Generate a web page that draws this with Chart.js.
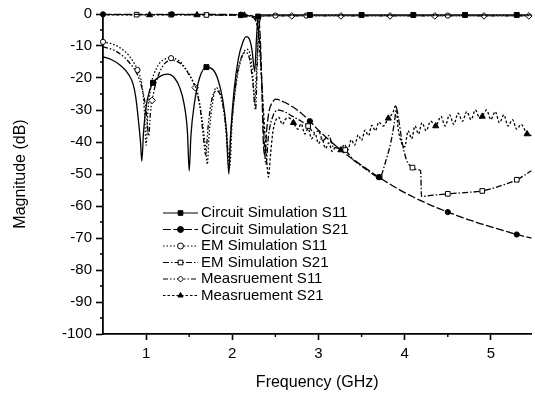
<!DOCTYPE html>
<html>
<head>
<meta charset="utf-8">
<script src="https://cdn.jsdelivr.net/npm/chart.js@4.4.1/dist/chart.umd.min.js"></script>
<style>
 body{margin:0;background:#fff}
</style>
</head>
<body>
<canvas id="chart_sparam" width="535" height="400"></canvas>
<script>
// frequencies in GHz, magnitudes in dB
var circS11_f = [0.5,0.6,0.7,0.8,0.85,0.88,0.91,0.935,0.95,0.97,1.0,1.04,1.08,1.16,1.25,1.33,1.39,1.44,1.48,1.5,1.52,1.56,1.62,1.7,1.78,1.84,1.89,1.93,1.96,1.98,2.02,2.07,2.12,2.16,2.2,2.23,2.26,2.28,2.3,2.32,2.36,2.9,3.5,4.1,4.7,5.3,5.47];
var circS11_db = [-13.4,-14.3,-16,-19,-22,-26,-33,-40,-46,-37,-29,-24,-21.5,-19.5,-18.8,-20,-23,-28,-37,-49,-38,-28,-20,-16.6,-17.5,-21,-27,-36,-50,-38,-24,-14,-9,-7.1,-8,-11.5,-18,-8,-0.8,-0.4,-0.3,-0.3,-0.3,-0.3,-0.3,-0.3,-0.3];
var circS11_marks = [1.08,1.7,2.3,2.9,3.5,4.1,4.7,5.3];

var circS21_f = [0.5,1.3,2.1,2.2,2.26,2.3,2.32,2.34,2.36,2.38,2.4,2.43,2.47,2.5,2.6,2.7,2.8,2.9,3.0,3.1,3.2,3.3,3.4,3.5,3.6,3.7,3.8,3.9,4.0,4.1,4.2,4.3,4.4,4.5,4.6,4.7,4.8,4.9,5.0,5.1,5.2,5.3,5.4,5.47];
var circS21_db = [-0.1,-0.1,-0.2,-0.4,-0.9,-2,-5,-20,-40,-44,-36,-30,-27.5,-26.6,-27.5,-29,-31,-33.5,-36.3,-38.8,-41.2,-43.4,-45.4,-47.3,-49.2,-51,-52.7,-54.3,-55.8,-57.2,-58.5,-59.7,-60.8,-61.9,-62.9,-63.9,-64.8,-65.7,-66.5,-67.3,-68.1,-68.9,-69.6,-70];
var circS21_marks = [0.5,1.3,2.1,2.9,3.7,4.5,5.3];

var emS11_f = [0.5,0.6,0.7,0.8,0.9,0.95,0.98,1.0,1.02,1.06,1.12,1.2,1.29,1.38,1.47,1.55,1.6,1.65,1.69,1.71,1.73,1.77,1.81,1.86,1.91,1.95,1.97,2.0,2.05,2.11,2.17,2.21,2.24,2.26,2.28,2.3,2.32,2.36,2.5,2.86,3.3,3.9,4.5,5.0,5.47];
var emS11_db = [-8.7,-9.3,-10.6,-13,-17.5,-22,-30,-41,-31,-22,-17,-14.3,-13.8,-14.6,-17.5,-21.5,-25,-33,-42,-47,-38,-28,-23,-25,-32,-44,-48,-33,-21,-13.5,-11,-13,-20,-28,-18,-7,-2,-0.6,-0.5,-0.5,-0.5,-0.5,-0.5,-0.5,-0.5];
var emS11_marks = [0.5,0.9,1.29,2.5,2.86,4.5];

var emS21_f = [0.5,0.89,1.29,1.7,2.1,2.22,2.28,2.31,2.34,2.37,2.39,2.42,2.47,2.53,2.6,2.7,2.8,2.88,2.95,3.0,3.05,3.12,3.17,3.25,3.31,3.4,3.5,3.6,3.71,3.78,3.84,3.88,3.905,3.93,3.97,4.02,4.09,4.15,4.185,4.195,4.3,4.5,4.7,4.9,5.1,5.3,5.47];
var emS21_db = [-0.2,-0.2,-0.2,-0.3,-0.4,-0.8,-2.5,-6,-20,-40,-47,-38,-32,-30,-30.5,-32,-33.5,-35,-37,-36.5,-39.5,-38,-41.5,-42,-42.5,-45.5,-47.5,-49.5,-51,-46,-40,-34,-29.5,-33,-40,-45.5,-48,-48.6,-49,-57,-56.7,-56.2,-55.8,-55.3,-53.8,-51.8,-49];
var emS21_marks = [0.89,1.29,1.7,2.1,2.88,3.31,3.71,4.09,4.5,4.9,5.3];

var measS11_f = [0.5,0.6,0.7,0.8,0.9,0.96,1.0,1.03,1.05,1.07,1.12,1.2,1.3,1.4,1.5,1.57,1.63,1.67,1.69,1.72,1.76,1.82,1.88,1.93,1.96,1.99,2.05,2.1,2.15,2.2,2.24,2.27,2.29,2.31,2.33,2.4,2.69,3.26,3.83,4.35,4.92,5.44,5.47];
var measS11_db = [-10.3,-11,-12.5,-15,-19,-24,-30,-38,-31,-27,-21,-16,-14.5,-15.5,-19,-23,-30,-40,-44,-35,-27,-24,-27,-36,-45,-35,-20,-14,-12,-14,-22,-30,-15,-4,-1,-0.6,-0.6,-0.6,-0.6,-0.6,-0.6,-0.6,-0.6];
var measS11_marks = [1.07,1.57,2.69,3.26,3.83,4.35,4.92,5.44];

var measS21_f = [0.5,1.04,1.59,2.14,2.22,2.26,2.29,2.32,2.35,2.38,2.4,2.42,2.44,2.47,2.5,2.54,2.58,2.62,2.66,2.71,2.76,2.8,2.84,2.88,2.92,2.96,3.0,3.04,3.08,3.12,3.16,3.2,3.26,3.3,3.34,3.38,3.42,3.46,3.5,3.54,3.58,3.62,3.66,3.7,3.75,3.81,3.86,3.9,3.92,3.96,4.0,4.04,4.08,4.12,4.16,4.2,4.25,4.3,4.36,4.42,4.47,4.52,4.57,4.62,4.67,4.72,4.77,4.82,4.87,4.9,4.95,5.0,5.05,5.1,5.15,5.2,5.25,5.3,5.35,5.42,5.47];
var measS21_db = [-0.3,-0.3,-0.3,-0.4,-0.8,-1.5,-4,-12,-25,-38,-46,-51,-45,-37,-33.5,-32.3,-34.5,-32.8,-32.5,-34,-36,-34.3,-37.5,-35.8,-39,-37.3,-40.5,-38.8,-42,-40.3,-43,-41.3,-42.5,-40.8,-42.5,-39.3,-41,-37.8,-39.5,-36.3,-38,-34.8,-36.5,-33.8,-35,-32.6,-31,-28.5,-35,-40,-41.5,-36.5,-39,-35,-37.5,-34,-36.5,-33.5,-35,-32,-35,-31.5,-34.5,-31,-33.5,-30.5,-33,-30,-32.5,-32,-30,-33,-30.5,-34,-31.5,-35,-33,-36,-34.5,-37.5,-38];
var measS21_marks = [1.04,1.59,2.14,2.71,3.26,3.81,4.36,4.9,5.42];

var xTicks = [1,2,3,4,5];
var xMinor = [1.5,2.5,3.5,4.5];
var yMinor = [-95,-85,-75,-65,-55,-45,-35,-25,-15,-5];

function makeSet(label, f, db, marks, dash, style, fill, rad)
{
 return {
   label: label,
   data: f.map(function(v, i){ return {x: v, y: db[i]}; }),
   borderColor: '#000',
   borderWidth: 1.3,
   borderDash: dash,
   pointStyle: style,
   pointBackgroundColor: fill,
   pointBorderColor: '#000',
   pointBorderWidth: 1,
   pointRadius: function(ctx){ return marks.indexOf(ctx.raw.x) >= 0 ? rad : 0; },
   pointHoverRadius: 0,
   cubicInterpolationMode: 'monotone',
   clip: false,
   fill: false
 };
}

function drawMark(c, ds, x, y)
{
 c.fillStyle = ds.pointBackgroundColor;
 c.strokeStyle = '#000';
 c.lineWidth = 1;
 Chart.helpers.drawPoint(c, {pointStyle: ds.pointStyle, radius: ds.legendRad, rotation: 0, borderWidth: 1}, x, y);
}

// legend drawn inside the plot like the original figure
var legendBox = {
  id: 'legendBox',
  afterDraw: function(chart)
  {
   var c = chart.ctx;
   chart.data.datasets.forEach(function(ds, i){
     var y = 213 + i * 16.5;
     c.save();
     c.strokeStyle = '#000';
     c.lineWidth = 1.2;
     c.setLineDash(ds.borderDash);
     c.beginPath(); c.moveTo(163, y); c.lineTo(198, y); c.stroke();
     c.setLineDash([]);
     drawMark(c, ds, 180.5, y);
     c.fillStyle = '#000';
     c.font = '15px "Liberation Sans", Arial, sans-serif';
     c.textBaseline = 'middle';
     c.textAlign = 'left';
     c.fillText(ds.label, 201, y);
     c.restore();
   });
  }
};

var minorTicks = {
  id: 'minorTicks',
  afterDraw: function(chart)
  {
   var c = chart.ctx, xs = chart.scales.x, ys = chart.scales.y, a = chart.chartArea;
   c.save();
   c.strokeStyle = '#000';
   c.lineWidth = 1.4;
   c.beginPath();
   yMinor.forEach(function(v){ var p = ys.getPixelForValue(v); c.moveTo(a.left - 3, p); c.lineTo(a.left, p); });
   xMinor.forEach(function(v){ var p = xs.getPixelForValue(v); c.moveTo(p, a.bottom); c.lineTo(p, a.bottom + 3); });
   c.stroke();
   c.restore();
  }
};

Chart.defaults.font.family = '"Liberation Sans", Arial, sans-serif';
Chart.defaults.color = '#000';

var sets = [
  makeSet('Circuit Simulation S11', circS11_f, circS11_db, circS11_marks, [], 'rect', '#000', 3.5),
  makeSet('Circuit Simulation S21', circS21_f, circS21_db, circS21_marks, [8,2.5], 'circle', '#000', 2.6),
  makeSet('EM Simulation S11', emS11_f, emS11_db, emS11_marks, [1.5,2], 'circle', '#fff', 2.6),
  makeSet('EM Simulation S21', emS21_f, emS21_db, emS21_marks, [6,2,1.5,2], 'rect', '#fff', 3.3),
  makeSet('Measruement S11', measS11_f, measS11_db, measS11_marks, [5,2,1.5,2,1.5,2], 'rectRot', '#fff', 3.3),
  makeSet('Measruement S21', measS21_f, measS21_db, measS21_marks, [2.5,2], 'triangle', '#000', 3.5)
];
sets.forEach(function(s){ s.legendRad = s.pointStyle == 'rect' ? 3.3 : 3; });

var chart_obj = new Chart(document.getElementById('chart_sparam'), {
  type: 'scatter',
  data: { datasets: sets },
  options: {
    responsive: false,
    animation: false,
    showLine: true,
    layout: { padding: { top: 14, right: 0, left: 0, bottom: 0 } },
    plugins: { legend: { display: false }, tooltip: { enabled: false } },
    scales: {
      x: {
        type: 'linear',
        min: 0.5,
        max: 5.47,
        afterBuildTicks: function(s){ s.ticks = xTicks.map(function(v){ return {value: v}; }); },
        afterFit: function(s){ s.height = 66; },
        grid: { drawOnChartArea: false, tickLength: 6, tickWidth: 1.6, tickColor: '#000' },
        border: { display: true, color: '#000', width: 1.8 },
        ticks: { font: { size: 15 }, padding: 5, maxRotation: 0 },
        title: { display: true, text: 'Frequency (GHz)', font: { size: 16 }, padding: { top: 0, bottom: 8 } }
      },
      y: {
        min: -100,
        max: 0,
        afterFit: function(s){ s.width = 103; },
        grid: { drawOnChartArea: false, tickLength: 7, tickWidth: 1.6, tickColor: '#000' },
        border: { display: true, color: '#000', width: 1.8 },
        ticks: { stepSize: 10, font: { size: 15 }, padding: 4 },
        title: { display: true, text: 'Magnitude (dB)', font: { size: 16 }, padding: { top: 11, bottom: 0 } }
      }
    }
  },
  plugins: [legendBox, minorTicks]
});
</script>
</body>
</html>
